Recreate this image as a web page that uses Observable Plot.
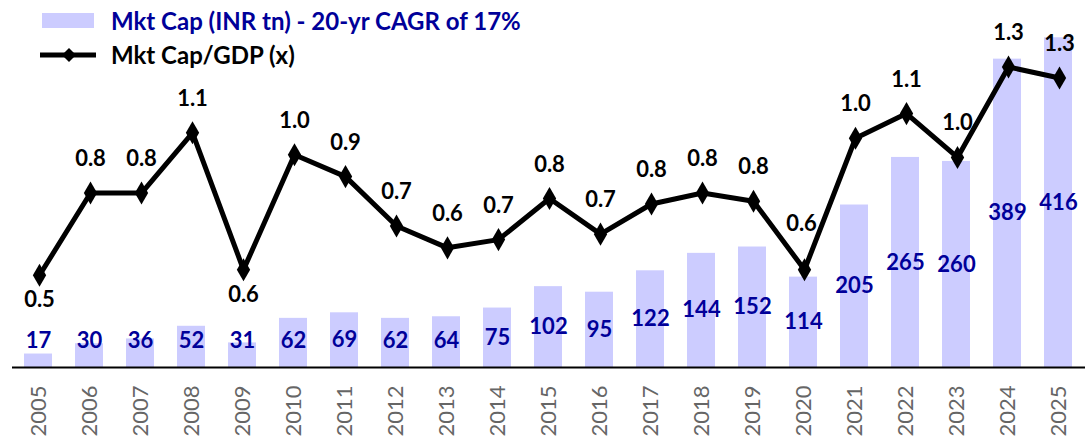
<!DOCTYPE html>
<html><head><meta charset="utf-8">
<script src="https://cdn.jsdelivr.net/npm/d3@7"></script>
<script src="https://cdn.jsdelivr.net/npm/@observablehq/plot@0.6"></script>
<style>
body{margin:0;background:#fff;}
#wrap{position:relative;width:1090px;height:441px;font-family:Lato,sans-serif;overflow:hidden;}
#wrap > svg, #wrap > figure{position:absolute;left:0;top:0;margin:0;}
.leg{position:absolute;font-weight:bold;font-size:24px;line-height:24px;white-space:nowrap;font-family:Lato,sans-serif;}
</style></head><body>
<div id="wrap"></div>
<script>
const years = ["2005","2006","2007","2008","2009","2010","2011","2012","2013","2014","2015","2016","2017","2018","2019","2020","2021","2022","2023","2024","2025"];
const mktCap = [17,30,36,52,31,62,69,62,64,75,102,95,122,144,152,114,205,265,260,389,416];
const mktCapGdp = [0.54,0.84,0.84,1.06,0.56,0.98,0.90,0.72,0.64,0.67,0.82,0.69,0.80,0.84,0.81,0.56,1.04,1.13,0.97,1.30,1.26];
const seriesNames = ["Mkt Cap (INR tn) - 20-yr CAGR of 17%", "Mkt Cap/GDP (x)"];

const data = years.map((y, i) => ({year: y, cap: mktCap[i], ratio: mktCapGdp[i]}));
const labelsBelow = new Set(["2005", "2009"]);
const labelRaised = new Set(["2020"]);

const W = 1090, H = 441;
const common = {width: W, height: H, marginLeft: 12, marginRight: 5, marginTop: 0, marginBottom: 74,
  style: {fontFamily: "Lato, sans-serif", background: "transparent", overflow: "visible"}};
const barBlue = "#ccccff", navy = "#000099";

const barPlot = Plot.plot({
  ...common,
  x: {type: "band", domain: years, paddingInner: 0.45, paddingOuter: 0.225, axis: null},
  y: {domain: [0, 463], axis: null},
  marks: [
    Plot.barY(data, {x: "year", y: "cap", fill: barBlue}),
    Plot.ruleY([0], {stroke: "#000", strokeWidth: 2}),
    Plot.axisX({tickRotate: -90, tickSize: 0, tickPadding: 18, fontSize: 22, fill: "#666", label: null, fontFamily: "Lato, sans-serif"}),
    Plot.text(data, {x: "year", y: d => Math.max(d.cap / 2, 34), text: d => String(d.cap),
      fill: navy, fontSize: 22, fontWeight: "bold", fontFamily: "Lato, sans-serif"})
  ]
});

const linePlot = Plot.plot({
  ...common,
  x: {type: "point", domain: years, padding: 0.5, axis: null},
  y: {domain: [0.2033, 1.5427], axis: null},
  marks: [
    Plot.line(data, {x: "year", y: "ratio", stroke: "#000", strokeWidth: 5, strokeLinejoin: "miter"}),
    Plot.dot(data, {x: "year", y: "ratio", symbol: "diamond", r: 7, fill: "#000", stroke: "none"}),
    Plot.text(data.filter(d => !labelsBelow.has(d.year) && !labelRaised.has(d.year)), {x: "year", y: "ratio", dy: -34,
      text: d => d.ratio.toFixed(1), fill: "#000", fontSize: 22, fontWeight: "bold", fontFamily: "Lato, sans-serif"}),
    Plot.text(data.filter(d => labelsBelow.has(d.year)), {x: "year", y: "ratio", dy: 25,
      text: d => d.ratio.toFixed(1), fill: "#000", fontSize: 22, fontWeight: "bold", fontFamily: "Lato, sans-serif"}),
    Plot.text(data.filter(d => labelRaised.has(d.year)), {x: "year", y: "ratio", dy: -46, dx: -3,
      text: d => d.ratio.toFixed(1), fill: "#000", fontSize: 22, fontWeight: "bold", fontFamily: "Lato, sans-serif"})
  ]
});

const wrap = document.getElementById("wrap");
wrap.appendChild(barPlot);
wrap.appendChild(linePlot);

// legend
const leg1 = document.createElement("div");
leg1.style.cssText = "position:absolute;left:42px;top:13px;width:52px;height:15px;background:" + barBlue;
wrap.appendChild(leg1);
const t1 = document.createElement("div");
t1.className = "leg"; t1.style.left = "111px"; t1.style.top = "9px"; t1.style.color = navy;
t1.textContent = seriesNames[0];
wrap.appendChild(t1);
const ls = document.createElementNS("http://www.w3.org/2000/svg", "svg");
ls.setAttribute("width", 64); ls.setAttribute("height", 20);
ls.style.cssText = "position:absolute;left:38px;top:45px;";
ls.innerHTML = '<line x1="2" y1="10" x2="58" y2="10" stroke="#000" stroke-width="5"/><path d="M31 3 L38 10 L31 17 L24 10 Z" fill="#000"/>';
wrap.appendChild(ls);
const t2 = document.createElement("div");
t2.className = "leg"; t2.style.left = "111px"; t2.style.top = "43px"; t2.style.color = "#000";
t2.textContent = seriesNames[1];
wrap.appendChild(t2);
</script>
</body></html>
